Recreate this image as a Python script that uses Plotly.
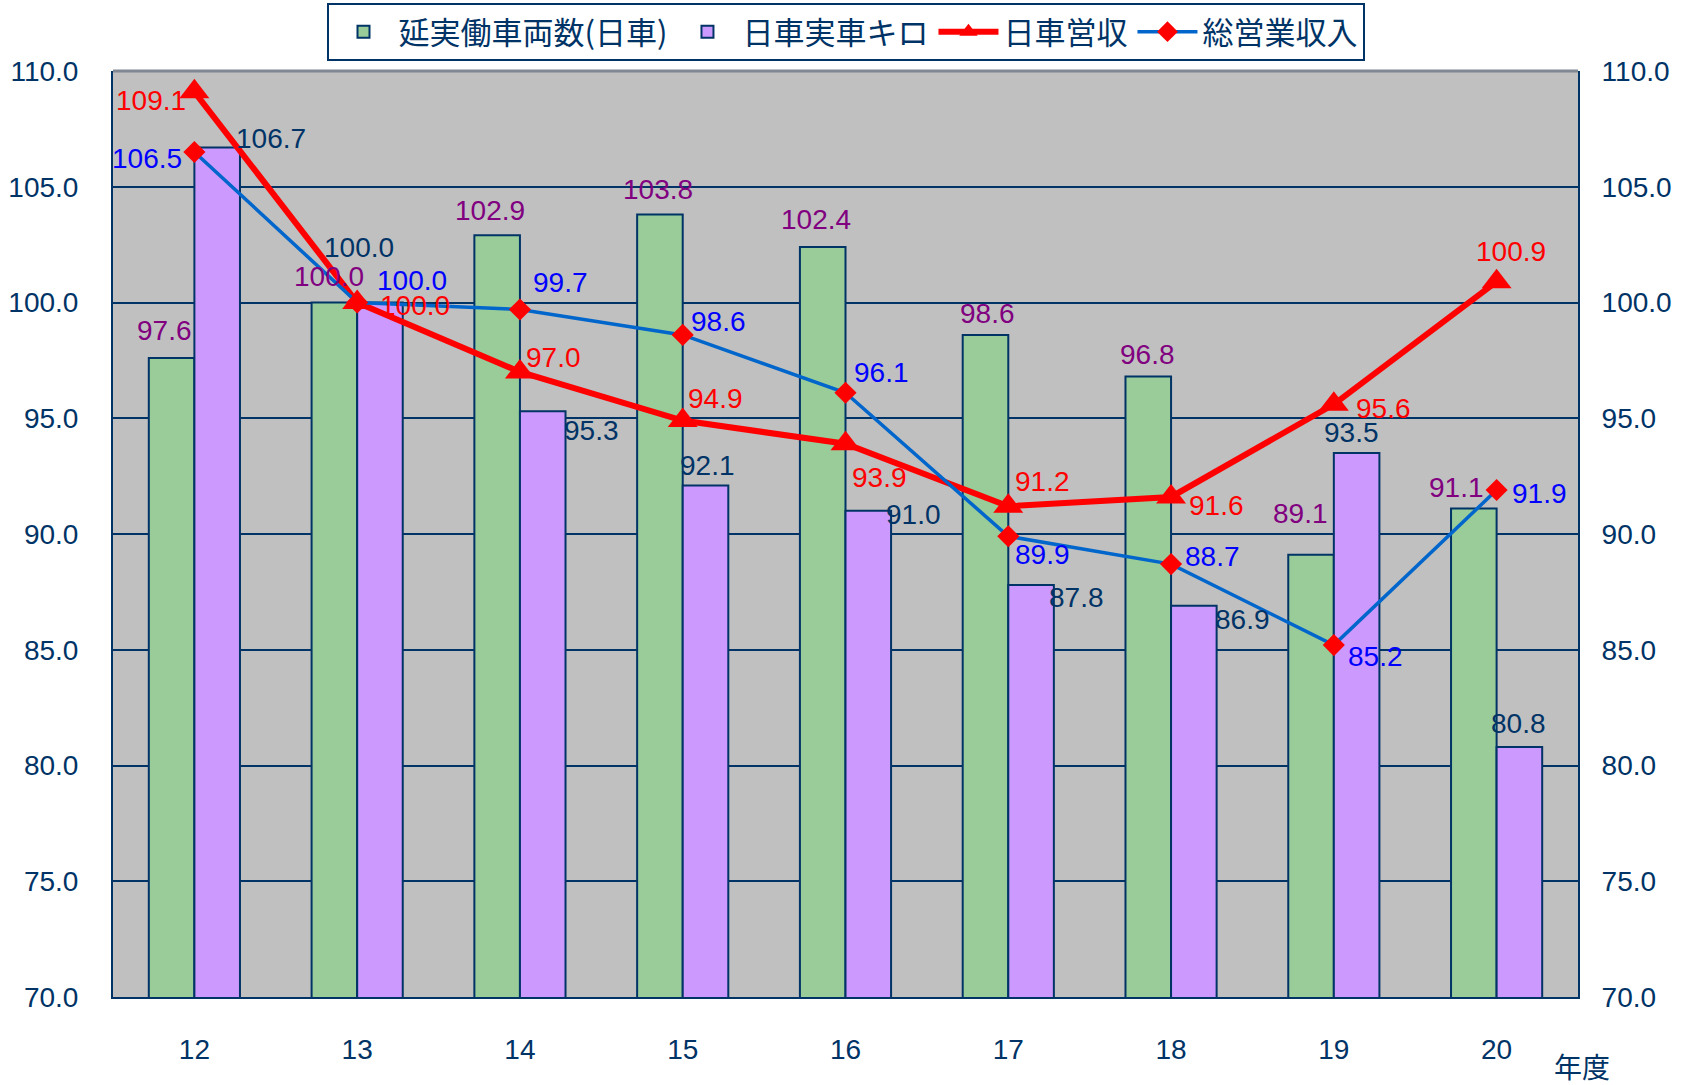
import plotly.graph_objects as go

# ---- data ----
years = ["12", "13", "14", "15", "16", "17", "18", "19", "20"]
operating_cars = [97.6, 100.0, 102.9, 103.8, 102.4, 98.6, 96.8, 89.1, 91.1]      # 延実働車両数(日車)
daily_real_km = [106.7, 100.0, 95.3, 92.1, 91.0, 87.8, 86.9, 93.5, 80.8]         # 日車実車キロ
daily_revenue = [109.1, 100.0, 97.0, 94.9, 93.9, 91.2, 91.6, 95.6, 100.9]        # 日車営収
total_revenue = [106.5, 100.0, 99.7, 98.6, 96.1, 89.9, 88.7, 85.2, 91.9]         # 総営業収入
y_ticks = [70, 75, 80, 85, 90, 95, 100, 105, 110]

names = ["延実働車両数(日車)", "日車実車キロ", "日車営収", "総営業収入"]

# label offsets in pixels (dx right, dy down) relative to category centre / value
off_cars = [(-30, -28), (-28, -26), (-30, -25), (-25, -25), (-30, -27), (-21, -21), (-24, -22), (-33, -41), (-40, -21)]
off_km = [(77, -9), (2, -55), (72, 19), (25, -20), (68, 4), (68, 13), (71, 14), (18, -20), (22, -23)]
off_dr = [(-43, 9), (58, 3), (34, -14), (33, -22), (34, 34), (34, -25), (45, 9), (50, 4), (14, -30)]
off_tr = [(-47, 6), (55, -22), (41, -27), (36, -13), (36, -20), (34, 18), (41, -8), (42, 11), (43, 3)]

NAVY = "#003366"
FONT = "Liberation Sans, Arial, Noto Sans CJK JP, sans-serif"
NUM = 28
xs = list(range(len(years)))

fig = go.Figure()
fig.add_trace(go.Bar(x=xs, y=operating_cars, name=names[0],
                     marker=dict(color="#99CC99", line=dict(color=NAVY, width=2))))
fig.add_trace(go.Bar(x=xs, y=daily_real_km, name=names[1],
                     marker=dict(color="#CC99FF", line=dict(color=NAVY, width=2))))
fig.add_trace(go.Scatter(x=xs, y=daily_revenue, name=names[2], yaxis="y2",
                         mode="lines+markers",
                         line=dict(color="#FF0000", width=6),
                         marker=dict(symbol="triangle-up", size=26, color="#FF0000")))
fig.add_trace(go.Scatter(x=xs, y=total_revenue, name=names[3], yaxis="y2",
                         mode="lines+markers",
                         line=dict(color="#0066CC", width=3.5),
                         marker=dict(symbol="diamond", size=17, color="#FF0000")))

ann = []
def add_labels(vals, offs, color, yref):
    for i, (v, (dx, dy)) in enumerate(zip(vals, offs)):
        ann.append(dict(x=i, y=v, xref="x", yref=yref, text=f"{v:.1f}", showarrow=False,
                        xanchor="center", yanchor="middle", xshift=dx, yshift=-dy,
                        font=dict(family=FONT, size=NUM, color=color)))

add_labels(operating_cars, off_cars, "#800080", "y")
add_labels(daily_real_km, off_km, NAVY, "y")
add_labels(daily_revenue, off_dr, "#FF0000", "y2")
add_labels(total_revenue, off_tr, "#0000FF", "y2")

ann.append(dict(x=1.0027, y=-0.075, xref="paper", yref="paper", text="年度", showarrow=False,
                xanchor="center", yanchor="middle",
                font=dict(family="Noto Sans CJK JP", size=28, color=NAVY)))

fig.update_layout(
    width=1686, height=1085,
    margin=dict(l=113, r=108, t=71, b=88, autoexpand=False),
    paper_bgcolor="white", plot_bgcolor="#C0C0C0",
    font=dict(family=FONT, size=NUM, color=NAVY),
    barmode="group", bargap=0.44, bargroupgap=0,
    showlegend=True,
    legend=dict(orientation="h", x=0.5, xanchor="center", y=1.0734, yanchor="top",
                bgcolor="white", bordercolor=NAVY, borderwidth=2,
                font=dict(family="Noto Sans CJK JP", size=31, color=NAVY),
                itemwidth=60, traceorder="normal"),
    xaxis=dict(range=[-0.5, 8.5], tickvals=xs, ticktext=years, showgrid=False,
               showline=True, linecolor=NAVY, linewidth=2, ticks="",
               ticklabelstandoff=26, tickfont=dict(family=FONT, size=NUM, color=NAVY),
               zeroline=False, automargin=False),
    yaxis=dict(range=[70, 110], tickvals=y_ticks, tickformat=".1f",
               showgrid=True, gridcolor=NAVY, gridwidth=2,
               showline=True, linecolor=NAVY, linewidth=2,
               ticks="inside", ticklen=10, tickcolor=NAVY, tickwidth=2,
               ticklabelstandoff=27, tickfont=dict(family=FONT, size=NUM, color=NAVY),
               zeroline=False, automargin=False),
    yaxis2=dict(range=[70, 110], tickvals=y_ticks, tickformat=".1f", overlaying="y", side="right",
                showgrid=False, showline=True, linecolor=NAVY, linewidth=2,
                ticks="inside", ticklen=10, tickcolor=NAVY, tickwidth=2,
                ticklabelstandoff=16, tickfont=dict(family=FONT, size=NUM, color=NAVY),
                zeroline=False, automargin=False),
    annotations=ann,
    shapes=[dict(type="line", xref="paper", yref="paper", x0=0, x1=1, y0=1, y1=1,
                 line=dict(color="#7F8893", width=3), layer="above")],
)

fig.write_html("out.html")
